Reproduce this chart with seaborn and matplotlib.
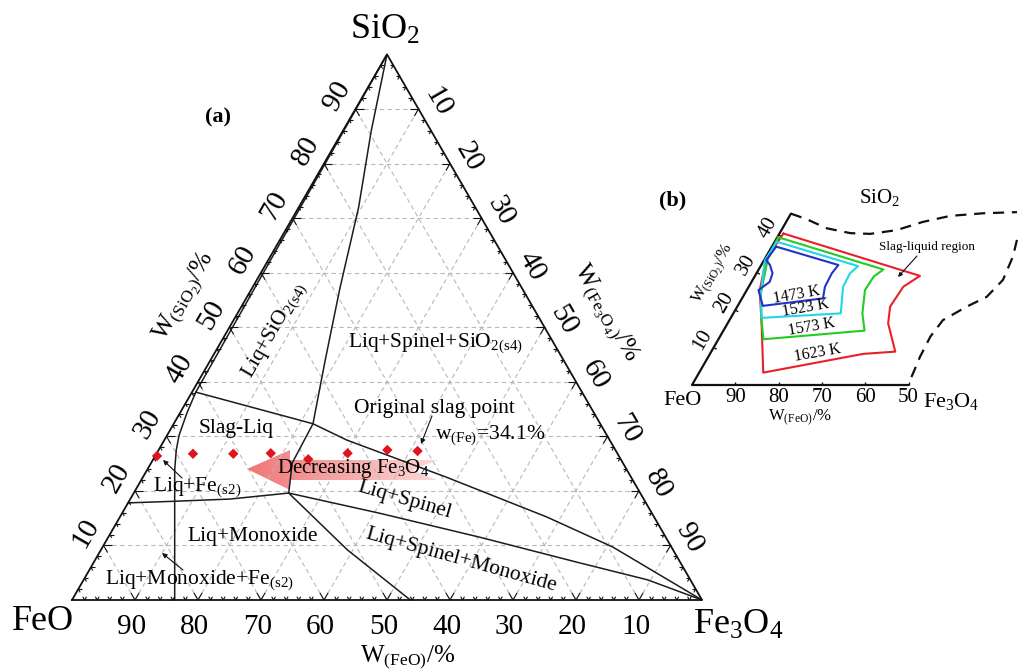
import numpy as np
import seaborn as sns
import matplotlib.pyplot as plt
from matplotlib.patches import Polygon
from matplotlib.collections import LineCollection

# ---------------- (a) FeO-SiO2-Fe3O4 isothermal section -----------------
# every curve is given as (SiO2 %, Fe3O4 %)
apex_si = [100, 86, 72, 57, 44, 32.3, 25.1, 19.6]          # SiO2(s4) / Spinel+SiO2 border
apex_fe = [0, 4.5, 9.5, 14, 18.2, 22.1, 22.4, 24.6]
slag_si = [38.1, 32.3, 29.3, 22.5, 15.2, 9.7, 0]            # Slag-Liq / Liq+Spinel upper border
slag_fe = [0.6, 22.1, 29.0, 48.2, 67.8, 81.0, 100]
spin_si = [19.6, 15.9, 11.5, 6.8, 3.7, 0]                   # Liq+Spinel lower border
spin_fe = [24.6, 40.9, 59.0, 77.2, 89.5, 100]
mono_si = [19.6, 9.2, 0]                                     # Monoxide / Spinel+Monoxide
mono_fe = [24.6, 39.1, 53.7]
feph_si = [17.8, 18.1, 18.5, 19.6]                          # Liq+Fe lower border
feph_fe = [0.0, 7.3, 15.8, 24.6]
left_si = [38.1, 34.3, 30.2, 27.5, 23.8, 0]                 # Fe(s2) border
left_fe = [0.6, 1.1, 1.9, 2.8, 4.4, 16.3]
sio2_si = [100, 38.1]                                        # SiO2 saturation near the edge
sio2_fe = [0, 0.6]

# slag compositions (Fe3O4 decreasing to the left)
pt_si = [26.4, 26.8, 26.8, 26.9, 25.8, 26.9, 27.5, 27.3]
pt_fe = [0.3, 5.8, 12.2, 18.1, 24.6, 30.3, 36.3, 41.2]

feo_ticks = [90, 80, 70, 60, 50, 40, 30, 20, 10]
sio2_ticks = [10, 20, 30, 40, 50, 60, 70, 80, 90]
fe3o4_ticks = [10, 20, 30, 40, 50, 60, 70, 80, 90]

# ---------------- (b) slag-liquid region vs temperature -----------------
t1623_si = [40.4, 29.1, 26.2, 20.9, 16.4, 8.9, 8.3, 3.3, 15.6, 25.3, 32.4, 36.4, 40.4]
t1623_fe = [0.9, 38.1, 35.7, 35.3, 37.1, 42.5, 35.4, 14.8, 8.3, 3.0, 0.7, 0.6, 0.9]
t1573_si = [39.4, 30.8, 28.9, 25.3, 19.1, 14.5, 12.2, 17.3, 24.4, 34.2, 39.4]
t1573_fe = [0.2, 28.8, 27.5, 27.3, 29.8, 32.6, 10.4, 7.4, 3.7, 0.5, 0.2]
t1523_si = [38.2, 31.7, 29.8, 26.2, 19.1, 17.9, 24.4, 33.3, 38.2]
t1523_fe = [0.5, 22.5, 21.6, 21.8, 24.8, 7.1, 3.7, 0.2, 0.5]
t1473_si = [36.9, 32.0, 29.8, 26.2, 23.1, 21.1, 25.3, 27.5, 29.8, 32.0, 33.3, 36.9]
t1473_fe = [1.0, 17.8, 17.4, 17.6, 18.7, 5.8, 2.7, 4.2, 3.7, 2.0, 0.5, 1.0]
edge1_si = [45.7, 44.2, 41.8, 40.5, 40.3, 41.3, 43.5, 45.1, 45.8, 46.1]
edge1_fe = [0.0, 4.4, 10.2, 16.3, 21.0, 26.6, 31.6, 37.1, 44.4, 52.0]
edge2_si = [38.7, 34.2, 28.0, 23.5, 20.9, 17.3, 12.9, 7.5, 3.1, 0.4]
edge2_fe = [55.7, 57.0, 57.8, 56.3, 53.0, 49.3, 48.6, 48.9, 49.5, 49.8]
inset_feo_ticks = [90, 80, 70, 60, 50]
inset_sio2_ticks = [10, 20, 30, 40]
temps = ["1473 K", "1523 K", "1573 K", "1623 K"]

sns.set_theme(style="white")
plt.rcParams["font.family"] = ["Liberation Serif", "DejaVu Serif"]
plt.rcParams["text.color"] = "black"
plt.rcParams["mathtext.fontset"] = "custom"
plt.rcParams["mathtext.rm"] = "Liberation Serif"
plt.rcParams["mathtext.it"] = "Liberation Serif:italic"
plt.rcParams["mathtext.bf"] = "Liberation Serif:bold"

R3 = np.sqrt(3) / 2


def cart(si, fe3):
    si = np.asarray(si, float)
    fe3 = np.asarray(fe3, float)
    return fe3 + si / 2, si * R3


def pt(si, fe3):
    x, y = cart(si, fe3)
    return float(x), float(y)


fig = plt.figure(figsize=(10.18, 6.71), dpi=100)
ax = fig.add_axes([0, 0, 1, 1])
ax.set_axis_off()
S = 6.3


def P(px, py):
    return (px - 72) / S, (600 - py) / S


# dashed composition grid
grid = []
for k in range(10, 100, 10):
    grid.append([pt(k, 0), pt(k, 100 - k)])
    grid.append([pt(0, k), pt(100 - k, k)])
    grid.append([pt(0, 100 - k), pt(100 - k, 0)])
ax.add_collection(LineCollection(grid, colors="#b8b8b8", linewidths=0.8,
                                 linestyles=(0, (4, 3)), zorder=1))

# triangle frame
fx, fy = cart([0, 0, 100, 0], [0, 100, 0, 0])
ax.plot(fx, fy, color="#111111", lw=1.3, zorder=4, solid_joinstyle="miter")

# inward ticks along both grid directions
ticks = []
for t in range(2, 100, 2):
    L = 1.3 if t % 10 == 0 else 0.6
    for (si, fe), dirs in (((0, t), [(-0.5, R3), (0.5, R3)]),
                           ((t, 0), [(1, 0), (0.5, -R3)]),
                           ((100 - t, t), [(-1, 0), (-0.5, -R3)])):
        x0, y0 = pt(si, fe)
        for dx, dy in dirs:
            ticks.append([(x0, y0), (x0 + L * dx, y0 + L * dy)])
ax.add_collection(LineCollection(ticks, colors="#111111", linewidths=0.8, zorder=4))

# Fe3O4 reduction arrow with a colour gradient
arrow_px = [(247, 469), (290, 450), (290, 460), (438, 460), (412, 470),
            (437, 480), (290, 480), (290, 490)]
arrow = Polygon([P(*p) for p in arrow_px], closed=True, fc="none", ec="none")
ax.add_patch(arrow)
g = np.linspace(0, 1, 256)
c0 = np.array([240, 118, 118]) / 255
c1 = np.array([252, 218, 218]) / 255
rgba = np.ones((1, 256, 4))
rgba[0, :, :3] = c0[None, :] * (1 - g[:, None]) + c1[None, :] * g[:, None]
(xa, ya), (xb, yb) = P(247, 490), P(438, 450)
im = ax.imshow(rgba, extent=(xa, xb, ya, yb), aspect="auto", zorder=0.8,
               interpolation="bilinear")
im.set_clip_path(arrow)

# phase boundaries
for si, fe in ((apex_si, apex_fe), (slag_si, slag_fe), (spin_si, spin_fe),
               (mono_si, mono_fe), (feph_si, feph_fe), (left_si, left_fe),
               (sio2_si, sio2_fe)):
    x, y = cart(si, fe)
    sns.lineplot(x=x, y=y, sort=False, estimator=None, color="#1c1c1c",
                 lw=1.1, ax=ax, zorder=3)

# slag points
px_, py_ = cart(pt_si, pt_fe)
sns.scatterplot(x=px_, y=py_, marker="D", s=28, color="#e0141c",
                edgecolor="none", ax=ax, zorder=5)

# tick labels
for v in feo_ticks:
    x, y = pt(0, 100 - v)
    ax.text(x - 0.55, y - 4.3, str(v), fontsize=21, ha="center", va="center")
for v in sio2_ticks:
    x, y = pt(v, 0)
    ax.text(x - 2.9, y + 2.0, str(v), fontsize=21, ha="center", va="center",
            rotation=60, rotation_mode="anchor")
for v in fe3o4_ticks:
    x, y = pt(100 - v, v)
    ax.text(x + 3.0, y + 1.1, str(v), fontsize=21, ha="center", va="center",
            rotation=-60, rotation_mode="anchor")

# vertex and axis titles
ax.text(*P(385, 30), r"SiO$_\mathregular{2}$", fontsize=26, ha="center", va="center")
ax.text(*P(43, 622), "FeO", fontsize=26, ha="center", va="center")
ax.text(*P(738, 625), r"Fe$_\mathregular{3}$O$_\mathregular{4}$", fontsize=26,
        ha="center", va="center")
ax.text(*P(408, 657), r"W$_\mathregular{(FeO)}$/%", fontsize=18, ha="center", va="center")
ax.text(*P(185, 296), r"W$_\mathregular{(SiO_2)}$/%", fontsize=18, ha="center",
        va="center", rotation=60, rotation_mode="anchor")
ax.text(*P(605, 313), r"W$_\mathregular{(Fe_3O_4)}$/%", fontsize=18, ha="center",
        va="center", rotation=-60, rotation_mode="anchor")
ax.text(*P(218, 117), "(a)", fontsize=16, fontweight="bold", ha="center", va="center")

# phase field labels
fs = 15.5
ax.text(*P(236, 428), "Slag-Liq", fontsize=fs, ha="center", va="center")
ax.text(*P(197, 487), r"Liq+Fe$_\mathregular{(s2)}$", fontsize=fs, ha="center", va="center")
ax.text(*P(253, 537), "Liq+Monoxide", fontsize=fs, ha="center", va="center")
ax.text(*P(199, 580), r"Liq+Monoxide+Fe$_\mathregular{(s2)}$", fontsize=fs,
        ha="center", va="center")
ax.text(*P(435, 343), r"Liq+Spinel+SiO$_\mathregular{2(s4)}$", fontsize=fs,
        ha="center", va="center")
ax.text(*P(275, 330), r"Liq+SiO$_\mathregular{2(s4)}$", fontsize=fs, ha="center",
        va="center", rotation=60, rotation_mode="anchor")
ax.text(*P(405, 500), "Liq+Spinel", fontsize=fs, ha="center", va="center",
        rotation=-16, rotation_mode="anchor")
ax.text(*P(461, 560), "Liq+Spinel+Monoxide", fontsize=fs, ha="center", va="center",
        rotation=-15.5, rotation_mode="anchor")
ax.text(*P(434, 408), "Original slag point", fontsize=fs, ha="center", va="center")
ax.text(*P(490, 435), r"w$_\mathregular{(Fe)}$=34.1%", fontsize=fs, ha="center", va="center")
ax.text(*P(353, 469), r"Decreasing Fe$_\mathregular{3}$O$_\mathregular{4}$", fontsize=15,
        ha="center", va="center", zorder=6)

arrow_kw = dict(arrowstyle="-|>", color="#111111", lw=0.8, mutation_scale=7,
                shrinkA=0, shrinkB=0)
ax.annotate("", xy=P(421, 444), xytext=P(432, 416), arrowprops=arrow_kw)
ax.annotate("", xy=P(163, 460), xytext=P(182, 478), arrowprops=arrow_kw)
ax.annotate("", xy=P(162, 553), xytext=P(183, 570), arrowprops=arrow_kw)

ax.set_xlim(-72 / S, (1018 - 72) / S)
ax.set_ylim(-71 / S, 600 / S)

# ---------------- inset (b) ----------------
S2 = 4.33
ax2 = fig.add_axes([650 / 1018, 1 - 420 / 671, 368 / 1018, 240 / 671])
ax2.set_axis_off()
ax2.patch.set_alpha(0)


def Q(px, py):
    return (px - 692) / S2, (385 - py) / S2


ex, ey = cart([45.7, 0, 0], [0, 0, 50])
ax2.plot(ex, ey, color="#111111", lw=1.6)
tk = []
for v in inset_feo_ticks:
    x, y = pt(0, 100 - v)
    tk.append([(x, y), (x, y + 0.8)])
for v in inset_sio2_ticks:
    x, y = pt(v, 0)
    tk.append([(x, y), (x + 0.8 * R3, y - 0.4)])
ax2.add_collection(LineCollection(tk, colors="#111111", linewidths=1.0))
for v in inset_feo_ticks:
    x, y = pt(0, 100 - v)
    ax2.text(x, y - 3.0, str(v), fontsize=15, ha="center", va="center")
for v in inset_sio2_ticks:
    x, y = pt(v, 0)
    ax2.text(x - 2.5, y + 1.7, str(v), fontsize=15, ha="center", va="center",
             rotation=60, rotation_mode="anchor")

for si, fe, col in ((t1623_si, t1623_fe, "#e8202a"), (t1573_si, t1573_fe, "#22cc22"),
                    (t1523_si, t1523_fe, "#22d6ea"), (t1473_si, t1473_fe, "#2233cc")):
    x, y = cart(si, fe)
    sns.lineplot(x=x, y=y, sort=False, estimator=None, color=col, lw=1.5, ax=ax2)
for si, fe in ((edge1_si, edge1_fe), (edge2_si, edge2_fe)):
    x, y = cart(si, fe)
    sns.lineplot(x=x, y=y, sort=False, estimator=None, color="#111111", lw=1.6,
                 ax=ax2, dashes=False, linestyle=(0, (5, 3.5)))

for lab, pos in zip(temps, [(797, 295), (806, 308), (812, 327), (818, 353)]):
    ax2.text(*Q(*pos), lab, fontsize=11.5, ha="center", va="center",
             rotation=10, rotation_mode="anchor")
ax2.text(*Q(927, 247), "Slag-liquid region", fontsize=9.5, ha="center", va="center")
ax2.annotate("", xy=Q(898, 277), xytext=Q(917, 256),
             arrowprops=dict(arrowstyle="-|>", color="#111111", lw=0.8,
                             mutation_scale=6, shrinkA=0, shrinkB=0))
ax2.text(*Q(682, 401), "FeO", fontsize=16, ha="center", va="center")
ax2.text(*Q(951, 402), r"Fe$_\mathregular{3}$O$_\mathregular{4}$", fontsize=16,
         ha="center", va="center")
ax2.text(*Q(880, 198), r"SiO$_\mathregular{2}$", fontsize=15, ha="center", va="center")
ax2.text(*Q(673, 200), "(b)", fontsize=16, fontweight="bold", ha="center", va="center")
ax2.text(*Q(800, 418), r"W$_\mathregular{(FeO)}$/%", fontsize=12, ha="center", va="center")
ax2.text(*Q(714, 274), r"W$_\mathregular{(SiO_2)}$/%", fontsize=12, ha="center",
         va="center", rotation=60, rotation_mode="anchor")
ax2.set_xlim((650 - 692) / S2, (1018 - 692) / S2)
ax2.set_ylim((385 - 420) / S2, (385 - 180) / S2)

fig.savefig("out.png", dpi=100)
